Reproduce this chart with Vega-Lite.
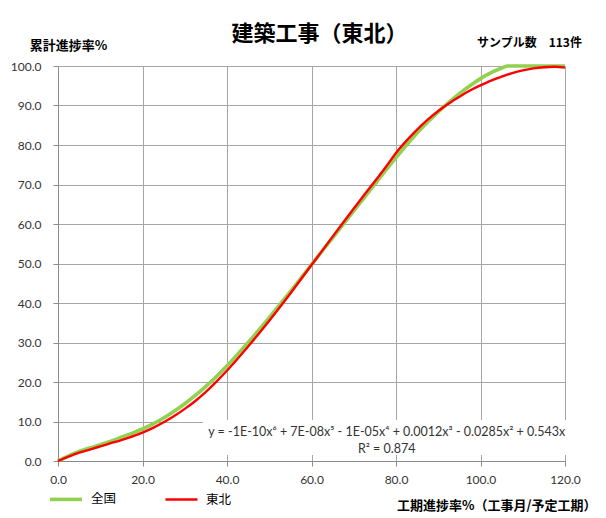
{
  "$schema": "https://vega.github.io/schema/vega-lite/v6.json",
  "width": 507,
  "height": 395,
  "autosize": {"type": "none"},
  "padding": {"left": 58, "top": 66, "right": 41, "bottom": 57},
  "background": "white",
  "config": {
    "view": {"stroke": null},
    "font": "Lato",
    "axis": {
      "gridColor": "#A6A6A6",
      "gridWidth": 1,
      "domainColor": "#8C8C8C",
      "tickColor": "#8C8C8C",
      "tickSize": 5,
      "labelFont": "Lato",
      "labelFontSize": 12,
      "labelColor": "#333333",
      "labelFlush": false,
      "titleFont": "Noto Sans CJK JP",
      "titleFontWeight": "bold",
      "titleFontSize": 13,
      "titleColor": "black",
      "titleAngle": 0
    }
  },
  "title": {
    "text": "建築工事（東北）",
    "font": "Noto Sans CJK JP",
    "fontSize": 22,
    "fontWeight": "bold",
    "color": "black",
    "anchor": "middle",
    "dx": 8,
    "offset": -9
  },
  "layer": [
    {
      "data": {"values": [{"x1": 34.3, "x2": 121, "y1": 1.5, "y2": 10.4}]},
      "mark": {"type": "rect", "fill": "white", "clip": false},
      "encoding": {
        "x": {
          "field": "x1", "type": "quantitative",
          "scale": {"domain": [0, 120], "nice": false},
          "axis": {
            "values": [0, 20, 40, 60, 80, 100, 120], "format": ".1f", "labelPadding": 8,
            "title": "工期進捗率%（工事月/予定工期）",
            "titleAnchor": "end", "titleAlign": "right", "titleBaseline": "middle",
            "titleX": 538, "titleY": 44
          }
        },
        "x2": {"field": "x2"},
        "y": {
          "field": "y1", "type": "quantitative",
          "scale": {"domain": [0, 100], "nice": false},
          "axis": {
            "values": [0, 10, 20, 30, 40, 50, 60, 70, 80, 90, 100], "format": ".1f", "labelPadding": 12,
            "title": "累計進捗率%",
            "titleAlign": "center", "titleBaseline": "middle",
            "titleX": 10, "titleY": -21
          }
        },
        "y2": {"field": "y2"}
      }
    },
    {
      "data": {
        "values": [
          {"s": "全国", "x": 0, "y": 0}, {"s": "全国", "x": 2.5, "y": 1.3}, {"s": "全国", "x": 5, "y": 2.4}, {"s": "全国", "x": 7.5, "y": 3.3},
          {"s": "全国", "x": 10, "y": 4.1}, {"s": "全国", "x": 12.5, "y": 5.0}, {"s": "全国", "x": 15, "y": 6.0}, {"s": "全国", "x": 17.5, "y": 7.0},
          {"s": "全国", "x": 20, "y": 8.1}, {"s": "全国", "x": 22.5, "y": 9.4}, {"s": "全国", "x": 25, "y": 10.9}, {"s": "全国", "x": 27.5, "y": 12.6},
          {"s": "全国", "x": 30, "y": 14.5}, {"s": "全国", "x": 32.5, "y": 16.6}, {"s": "全国", "x": 35, "y": 18.9}, {"s": "全国", "x": 37.5, "y": 21.4},
          {"s": "全国", "x": 40, "y": 24.1}, {"s": "全国", "x": 42.5, "y": 27.0}, {"s": "全国", "x": 45, "y": 30.0}, {"s": "全国", "x": 47.5, "y": 33.1},
          {"s": "全国", "x": 50, "y": 36.3}, {"s": "全国", "x": 52.5, "y": 39.6}, {"s": "全国", "x": 55, "y": 42.9}, {"s": "全国", "x": 57.5, "y": 46.3},
          {"s": "全国", "x": 60, "y": 49.7}, {"s": "全国", "x": 62.5, "y": 53.1}, {"s": "全国", "x": 65, "y": 56.5}, {"s": "全国", "x": 67.5, "y": 59.9},
          {"s": "全国", "x": 70, "y": 63.3}, {"s": "全国", "x": 72.5, "y": 66.7}, {"s": "全国", "x": 75, "y": 70.1}, {"s": "全国", "x": 77.5, "y": 73.5},
          {"s": "全国", "x": 80, "y": 76.8}, {"s": "全国", "x": 82.5, "y": 80.0}, {"s": "全国", "x": 85, "y": 83.0}, {"s": "全国", "x": 87.5, "y": 85.8},
          {"s": "全国", "x": 90, "y": 88.4}, {"s": "全国", "x": 92.5, "y": 90.8}, {"s": "全国", "x": 95, "y": 93.0}, {"s": "全国", "x": 97.5, "y": 95.0},
          {"s": "全国", "x": 100, "y": 96.8}, {"s": "全国", "x": 102.5, "y": 98.3}, {"s": "全国", "x": 105, "y": 99.5}, {"s": "全国", "x": 106.5, "y": 100},
          {"s": "全国", "x": 110, "y": 100}, {"s": "全国", "x": 115, "y": 100}, {"s": "全国", "x": 120, "y": 100},
          {"s": "東北", "x": 0, "y": 0}, {"s": "東北", "x": 2.5, "y": 1.1}, {"s": "東北", "x": 5, "y": 2.1}, {"s": "東北", "x": 7.5, "y": 2.9},
          {"s": "東北", "x": 10, "y": 3.7}, {"s": "東北", "x": 12.5, "y": 4.5}, {"s": "東北", "x": 15, "y": 5.3}, {"s": "東北", "x": 17.5, "y": 6.2},
          {"s": "東北", "x": 20, "y": 7.2}, {"s": "東北", "x": 22.5, "y": 8.4}, {"s": "東北", "x": 25, "y": 9.8}, {"s": "東北", "x": 27.5, "y": 11.4},
          {"s": "東北", "x": 30, "y": 13.2}, {"s": "東北", "x": 32.5, "y": 15.2}, {"s": "東北", "x": 35, "y": 17.5}, {"s": "東北", "x": 37.5, "y": 20.1},
          {"s": "東北", "x": 40, "y": 22.9}, {"s": "東北", "x": 42.5, "y": 25.9}, {"s": "東北", "x": 45, "y": 29.0}, {"s": "東北", "x": 47.5, "y": 32.2},
          {"s": "東北", "x": 50, "y": 35.5}, {"s": "東北", "x": 52.5, "y": 38.9}, {"s": "東北", "x": 55, "y": 42.4}, {"s": "東北", "x": 57.5, "y": 46.0},
          {"s": "東北", "x": 60, "y": 49.6}, {"s": "東北", "x": 62.5, "y": 53.2}, {"s": "東北", "x": 65, "y": 56.8}, {"s": "東北", "x": 67.5, "y": 60.4},
          {"s": "東北", "x": 70, "y": 63.9}, {"s": "東北", "x": 72.5, "y": 67.4}, {"s": "東北", "x": 75, "y": 70.8}, {"s": "東北", "x": 77.5, "y": 74.3},
          {"s": "東北", "x": 80, "y": 78.0}, {"s": "東北", "x": 82.5, "y": 81.1}, {"s": "東北", "x": 85, "y": 83.9}, {"s": "東北", "x": 87.5, "y": 86.4},
          {"s": "東北", "x": 90, "y": 88.6}, {"s": "東北", "x": 92.5, "y": 90.5}, {"s": "東北", "x": 95, "y": 92.2}, {"s": "東北", "x": 97.5, "y": 93.8},
          {"s": "東北", "x": 100, "y": 95.1}, {"s": "東北", "x": 102.5, "y": 96.3}, {"s": "東北", "x": 105, "y": 97.3}, {"s": "東北", "x": 107.5, "y": 98.2},
          {"s": "東北", "x": 110, "y": 98.9}, {"s": "東北", "x": 112.5, "y": 99.4}, {"s": "東北", "x": 115, "y": 99.7}, {"s": "東北", "x": 117.5, "y": 99.8},
          {"s": "東北", "x": 120, "y": 99.6}
        ]
      },
      "mark": {"type": "line", "interpolate": "monotone"},
      "encoding": {
        "x": {
          "field": "x", "type": "quantitative",
          "scale": {"domain": [0, 120], "nice": false},
          "axis": {
            "values": [0, 20, 40, 60, 80, 100, 120], "format": ".1f", "labelPadding": 8,
            "title": "工期進捗率%（工事月/予定工期）",
            "titleAnchor": "end", "titleAlign": "right", "titleBaseline": "middle",
            "titleX": 538, "titleY": 44
          }
        },
        "y": {
          "field": "y", "type": "quantitative",
          "scale": {"domain": [0, 100], "nice": false},
          "axis": {
            "values": [0, 10, 20, 30, 40, 50, 60, 70, 80, 90, 100], "format": ".1f", "labelPadding": 12,
            "title": "累計進捗率%",
            "titleAlign": "center", "titleBaseline": "middle",
            "titleX": 10, "titleY": -21
          }
        },
        "color": {
          "field": "s", "type": "nominal",
          "scale": {"domain": ["全国", "東北"], "range": ["#92D050", "#FF0000"]},
          "legend": {
            "orient": "none", "legendX": -10, "legendY": 415, "direction": "horizontal",
            "title": null, "symbolType": "stroke", "symbolSize": 1024, "symbolStrokeWidth": 3,
            "labelFont": "Noto Sans CJK JP", "labelFontSize": 12.5, "labelColor": "black",
            "labelOffset": 7, "columnPadding": 43
          }
        },
        "strokeWidth": {
          "field": "s", "type": "nominal",
          "scale": {"domain": ["全国", "東北"], "range": [3.6, 2.4]},
          "legend": null
        }
      }
    },
    {
      "data": {
        "values": [
          {"t": "y = -1E-10x⁶ + 7E-08x⁵ - 1E-05x⁴ + 0.0012x³ - 0.0285x² + 0.543x", "tx": 77.8, "ty": 7.3},
          {"t": "R² = 0.874", "tx": 77.8, "ty": 3.0}
        ]
      },
      "mark": {"type": "text", "font": "Lato", "fontSize": 12.5, "color": "#333333", "align": "center", "baseline": "middle"},
      "encoding": {
        "x": {
          "field": "tx", "type": "quantitative",
          "scale": {"domain": [0, 120], "nice": false},
          "axis": {
            "values": [0, 20, 40, 60, 80, 100, 120], "format": ".1f", "labelPadding": 8,
            "title": "工期進捗率%（工事月/予定工期）",
            "titleAnchor": "end", "titleAlign": "right", "titleBaseline": "middle",
            "titleX": 538, "titleY": 44
          }
        },
        "y": {
          "field": "ty", "type": "quantitative",
          "scale": {"domain": [0, 100], "nice": false},
          "axis": {
            "values": [0, 10, 20, 30, 40, 50, 60, 70, 80, 90, 100], "format": ".1f", "labelPadding": 12,
            "title": "累計進捗率%",
            "titleAlign": "center", "titleBaseline": "middle",
            "titleX": 10, "titleY": -21
          }
        },
        "text": {"field": "t"}
      }
    },
    {
      "data": {"values": [{"t": "サンプル数　113件", "tx": 111.6, "ty": 105.8}]},
      "mark": {"type": "text", "font": "Noto Sans CJK JP", "fontWeight": "bold", "fontSize": 12, "color": "black", "align": "center", "baseline": "middle"},
      "encoding": {
        "x": {
          "field": "tx", "type": "quantitative",
          "scale": {"domain": [0, 120], "nice": false},
          "axis": {
            "values": [0, 20, 40, 60, 80, 100, 120], "format": ".1f", "labelPadding": 8,
            "title": "工期進捗率%（工事月/予定工期）",
            "titleAnchor": "end", "titleAlign": "right", "titleBaseline": "middle",
            "titleX": 538, "titleY": 44
          }
        },
        "y": {
          "field": "ty", "type": "quantitative",
          "scale": {"domain": [0, 100], "nice": false},
          "axis": {
            "values": [0, 10, 20, 30, 40, 50, 60, 70, 80, 90, 100], "format": ".1f", "labelPadding": 12,
            "title": "累計進捗率%",
            "titleAlign": "center", "titleBaseline": "middle",
            "titleX": 10, "titleY": -21
          }
        },
        "text": {"field": "t"}
      }
    }
  ]
}
